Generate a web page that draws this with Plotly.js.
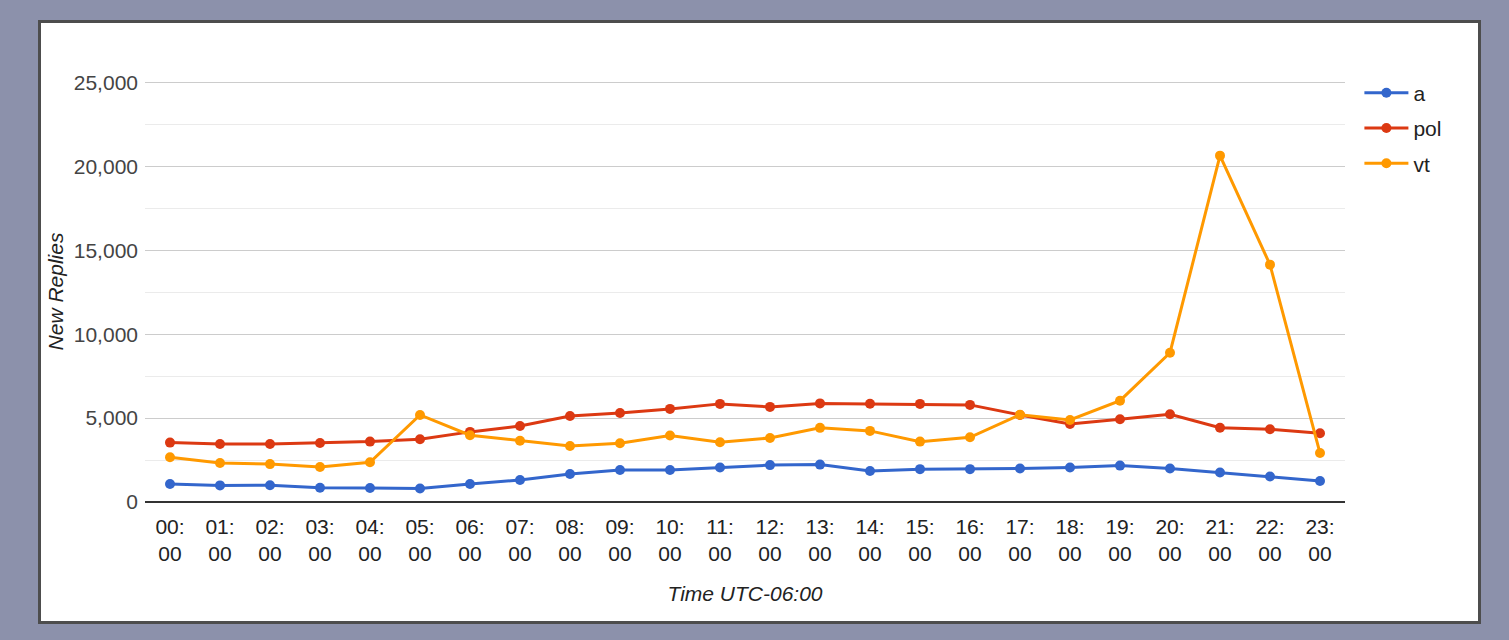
<!DOCTYPE html>
<html>
<head>
<meta charset="utf-8">
<script src="https://cdn.plot.ly/plotly-3.0.1.min.js"></script>
<style>
  html, body { margin: 0; padding: 0; background: #8c91ab; width: 1509px; height: 640px; overflow: hidden; }
  #frame { position: absolute; left: 38px; top: 20px; width: 1437px; height: 598px;
           border: 3px solid #4d4d4d; background: #ffffff; }
  #chart { width: 1437px; height: 598px; }
</style>
</head>
<body>
<div id="frame"><div id="chart"></div></div>
<script>
const hours = ["00:00","01:00","02:00","03:00","04:00","05:00","06:00","07:00","08:00","09:00","10:00","11:00",
               "12:00","13:00","14:00","15:00","16:00","17:00","18:00","19:00","20:00","21:00","22:00","23:00"];
const tickLabels = hours.map(h => h.replace(":", ":<br>"));
const seriesA   = [1070, 990, 1000, 850, 830, 800, 1070, 1310, 1670, 1910, 1910, 2060,
                   2200, 2230, 1850, 1960, 1960, 2000, 2060, 2170, 2000, 1760, 1520, 1250];
const seriesPol = [3540, 3460, 3460, 3520, 3600, 3740, 4180, 4530, 5130, 5310, 5550, 5850,
                   5670, 5880, 5860, 5850, 5790, 5190, 4650, 4930, 5230, 4430, 4340, 4100];
const seriesVt  = [2670, 2330, 2260, 2090, 2370, 5190, 3980, 3650, 3340, 3500, 3960, 3560,
                   3820, 4420, 4240, 3600, 3860, 5200, 4890, 6040, 8900, 20650, 14150, 2920];
const names  = ["a", "pol", "vt"];
const colors = ["#3366cc", "#dc3912", "#ff9900"];
const series = [seriesA, seriesPol, seriesVt];
const FONT = "Liberation Sans, Arial, sans-serif";

const traces = series.map((ys, i) => ({
  type: "scatter",
  mode: "lines+markers",
  name: names[i],
  legendgroup: names[i],
  x: hours,
  y: ys,
  line: { color: colors[i], width: 3 },
  marker: { color: colors[i], size: 10 },
  hoverinfo: "skip"
}));

const layout = {
  width: 1437, height: 598,
  margin: { l: 104, r: 133, t: 58, b: 119 },
  paper_bgcolor: "#ffffff",
  plot_bgcolor: "#ffffff",
  font: { family: FONT, size: 21, color: "#444444" },
  showlegend: true,
  legend: {
    x: 1.012, y: 1.02, xanchor: "left", yanchor: "top",
    font: { size: 21, color: "#222222" },
    traceorder: "grouped", tracegroupgap: 5,
    itemwidth: 44,
    bgcolor: "rgba(0,0,0,0)"
  },
  xaxis: {
    type: "category",
    categoryorder: "array", categoryarray: hours,
    tickmode: "array", tickvals: hours, ticktext: tickLabels,
    range: [-0.5, 23.5],
    showgrid: false, zeroline: false,
    showline: false, ticks: "",
    ticklabelstandoff: 10,
    tickfont: { size: 21, color: "#222222" },
    title: { text: "Time UTC-06:00", font: { size: 21, color: "#222222", family: FONT }, standoff: 22 },
    fixedrange: true
  },
  yaxis: {
    range: [0, 25100],
    tickmode: "linear", tick0: 0, dtick: 5000,
    tickformat: ",d",
    showgrid: true, gridcolor: "#cccccc", gridwidth: 1,
    minor: { dtick: 2500, showgrid: true, gridcolor: "#ebebeb", gridwidth: 1 },
    zeroline: true, zerolinecolor: "#333333", zerolinewidth: 2,
    showline: false, ticks: "",
    ticklabelstandoff: 6,
    tickfont: { size: 21, color: "#444444" },
    title: { text: "New Replies", font: { size: 21, color: "#222222", family: FONT }, standoff: 9 },
    fixedrange: true
  }
};

Plotly.newPlot("chart", traces, layout, { displayModeBar: false, staticPlot: true }).then(() => {
  document.querySelectorAll(".g-xtitle text, .g-ytitle text").forEach(t => t.style.fontStyle = "italic");
  const yt = document.querySelector(".g-ytitle");
  if (yt) yt.setAttribute("transform", "translate(5,0)");
});
</script>
</body>
</html>
